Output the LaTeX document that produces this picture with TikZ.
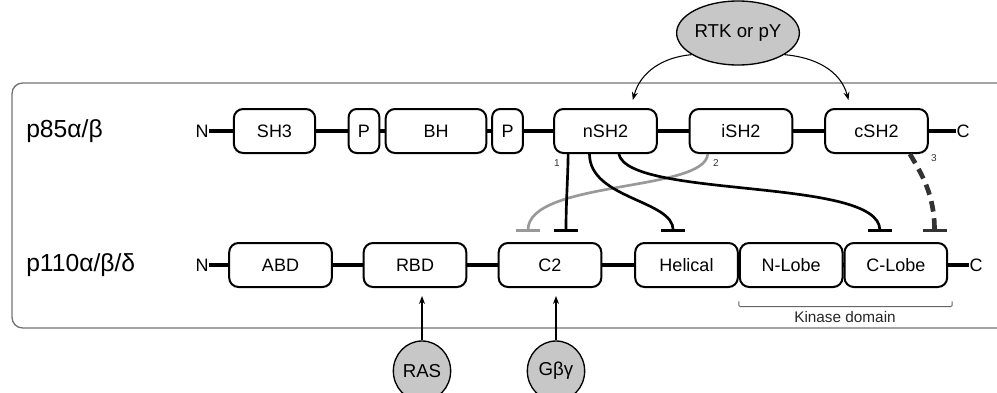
\documentclass[tikz,border=0pt]{standalone}
\usepackage{fontspec}
\setmainfont{Liberation Sans}
\usetikzlibrary{positioning, arrows.meta, calc, shapes.geometric}

\definecolor{bindgray}{gray}{0.78}
\definecolor{framegray}{gray}{0.45}
\definecolor{inhgray}{gray}{0.6}

\begin{document}
\begin{tikzpicture}[
  x=0.75pt, y=-0.75pt,
  font=\fontsize{13.5}{15}\selectfont,
  % Estilos de dominios
  dom/.style={draw, rectangle, rounded corners=7pt, line width=1.5pt, fill=white, minimum width=77pt, minimum height=33pt, inner sep=0pt},
  pdom/.style={dom, minimum width=23pt, rounded corners=6pt},
  term/.style={inner sep=0pt},
  rowlabel/.style={anchor=west, inner sep=0pt, font=\fontsize{18.5}{20}\selectfont},
  % Estilos de ligandos
  ligand/.style={draw, ellipse, line width=1pt, fill=bindgray, inner sep=0pt, font=\fontsize{14}{16}\selectfont},
  % Estilos de flechas
  chain/.style={line width=3.5pt},
  act/.style={draw, -{Stealth[length=6pt, width=4.5pt]}, line width=0.8pt},
  inh/.style={draw, -{Bar[width=18pt, line width=2pt]}, line width=2pt},
  num/.style={inner sep=0pt, font=\fontsize{7.5}{8}\selectfont, text=black!80}
]
  \useasboundingbox (0,0) rectangle (997,393);

  % outer frame
  \draw[framegray, line width=1pt, rounded corners=8pt] (12,83) rectangle (1010,328);

  % ==========================================
  % p85 REGULATORY SUBUNIT
  % ==========================================
  \node[rowlabel] (p85) at (26,131) {p85α/β};
  \node[term] (n85) at (202,131) {N};
  \node[term] (c85) at (963,131) {C};
  \draw[chain] (n85.east) -- (c85.west);

  \node[dom, minimum width=61pt] (sh3) at (274.5,131) {SH3};
  \node[pdom] (p1) at (364,131) {P};
  \node[dom, minimum width=75.5pt] (bh) at (436,131) {BH};
  \node[pdom] (p2) at (507.5,131) {P};
  \node[dom] (nsh2) at (605.5,131) {nSH2};
  \node[dom] (ish2) at (741,131) {iSH2};
  \node[dom] (csh2) at (876.5,131) {cSH2};

  % ==========================================
  % p110 CATALYTIC SUBUNIT
  % ==========================================
  \node[rowlabel] (p110) at (26,265) {p110α/β/δ};
  \node[term] (n110) at (202,265) {N};
  \node[term] (c110) at (976,265) {C};
  \draw[chain] (n110.east) -- (c110.west);

  \node[dom] (abd) at (280.5,265) {ABD};
  \node[dom] (rbd) at (415,265) {RBD};
  \node[dom] (c2) at (550,265) {C2};
  \node[dom] (helical) at (686.5,265) {Helical};
  \node[dom, right=0pt of helical] (nlobe) {N-Lobe};
  \node[dom, right=0pt of nlobe] (clobe) {C-Lobe};

  % Kinase domain bracket
  \draw[black!60, line width=0.7pt, rounded corners=1pt]
    ([yshift=-10pt]nlobe.south west) -- ([yshift=-14pt]nlobe.south west)
    -- ([xshift=3pt, yshift=-14pt]clobe.south east) -- ([xshift=3pt, yshift=-10pt]clobe.south east);
  \node[inner sep=0pt, font=\fontsize{11.5}{12}\selectfont, text=black!85] (kinase) at (845,317) {Kinase domain};

  % ==========================================
  % INTERACTIONS
  % ==========================================
  % inhibitory contacts p85 -> p110
  \draw[inh, inhgray] ([xshift=-25pt]ish2.south) .. controls +(-2,38) and +(0,-52) .. ([xshift=-16.5pt, yshift=7.5pt]c2.north);
  \draw[inh] ([xshift=-28pt]nsh2.south) to[out=-91, in=90] ([xshift=12pt, yshift=7.5pt]c2.north);
  \draw[inh] ([xshift=-12pt]nsh2.south) .. controls +(0,45) and +(0,-32) .. ([xshift=-10pt, yshift=7.5pt]helical.north);
  \draw[inh] ([xshift=10pt]nsh2.south) .. controls +(10,45) and +(0,-55) .. ([xshift=-12pt, yshift=7.5pt]clobe.north);
  \draw[inh, black!80, line width=3.5pt, dash pattern=on 8pt off 5pt] ([xshift=25pt]csh2.south) .. controls +(12,20) and +(0,-37) .. ([xshift=29pt, yshift=7.5pt]clobe.north);

  \node[num] (lab1) at (557,163) {1};
  \node[num] (lab2) at (716,163) {2};
  \node[num] (lab3) at (934,158) {3};

  % upstream activators
  \node[ligand, minimum width=78pt, minimum height=48pt] (rtk) at (738,33) {RTK or pY};
  \draw[act] (rtk.205) to[out=185, in=75] ([xshift=20.5pt, yshift=6pt]nsh2.north);
  \draw[act] (rtk.-25) to[out=-5, in=105] ([xshift=-21pt, yshift=6pt]csh2.north);

  \node[ligand, minimum width=43pt, minimum height=45pt] (ras) at (422,371) {RAS};
  \node[ligand, minimum width=43pt, minimum height=45pt] (gbg) at (556,371) {Gβγ};
  \draw[act] (ras.north) -- ([yshift=-6pt]ras.north |- rbd.south);
  \draw[act] (gbg.north) -- ([yshift=-6pt]gbg.north |- c2.south);

\end{tikzpicture}
\end{document}
